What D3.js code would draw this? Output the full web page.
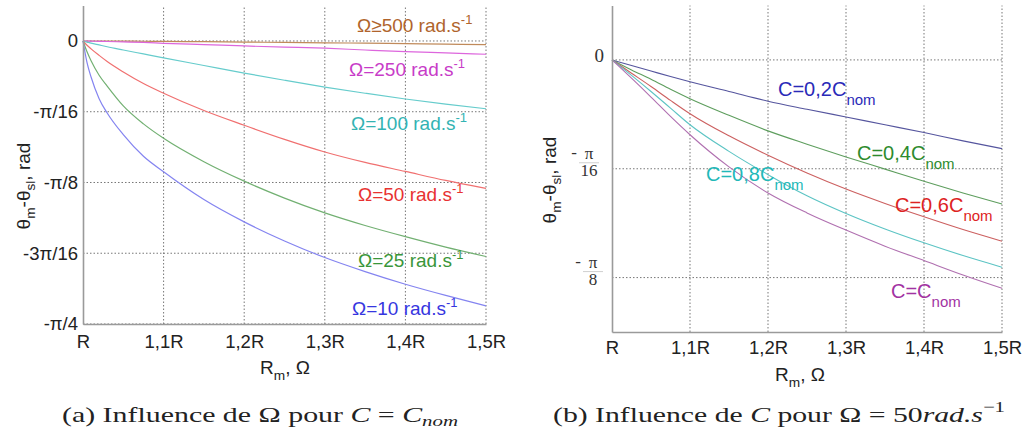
<!DOCTYPE html>
<html><head><meta charset="utf-8">
<script src="https://cdn.jsdelivr.net/npm/d3@7"></script>
<style>body{margin:0;background:#fff}svg{display:block}</style>
</head><body><svg width="1026" height="443"></svg>
<script>
// ---------- data ----------
const PI = Math.PI;
const xTickValues = [1, 1.1, 1.2, 1.3, 1.4, 1.5];
const xTickLabels = ["R", "1,1R", "1,2R", "1,3R", "1,4R", "1,5R"];
const leftYTickValues = [0, -PI/16, -PI/8, -3*PI/16, -PI/4];
const leftYTickLabels = ["0", "-π/16", "-π/8", "-3π/16", "-π/4"];
const rightYTickValues = [0, -PI/16, -PI/8];
const rightYTickNum = ["0", "π", "π"];
const rightYTickDen = ["", "16", "8"];

// (a) influence of Omega, C = Cnom
const leftRm = [1, 1.005, 1.01, 1.02, 1.03, 1.05, 1.075, 1.1, 1.15, 1.2, 1.25, 1.3, 1.35, 1.4, 1.45, 1.5];
const omega500 = [0, 0, 0, 0, 0, -0.0003, -0.0007, -0.001, -0.002, -0.003, -0.004, -0.005, -0.006, -0.0075, -0.009, -0.010];
const omega250 = [0, -0.0003, -0.0006, -0.001, -0.0015, -0.0025, -0.004, -0.0064, -0.010, -0.0138, -0.017, -0.020, -0.025, -0.0295, -0.033, -0.0368];
const omega100 = [0, -0.003, -0.006, -0.011, -0.016, -0.025, -0.036, -0.047, -0.068, -0.089, -0.109, -0.128, -0.145, -0.161, -0.175, -0.188];
const omega50  = [0, -0.012, -0.022, -0.040, -0.057, -0.086, -0.118, -0.145, -0.193, -0.234, -0.273, -0.308, -0.337, -0.362, -0.387, -0.409];
const omega25  = [0, -0.030, -0.055, -0.095, -0.125, -0.180, -0.230, -0.270, -0.335, -0.389, -0.436, -0.477, -0.512, -0.543, -0.572, -0.598];
const omega10  = [0, -0.060, -0.100, -0.160, -0.200, -0.260, -0.320, -0.363, -0.440, -0.502, -0.555, -0.601, -0.640, -0.675, -0.706, -0.735];

// (b) influence of C, Omega = 50 rad/s
const rightRm = [1, 1.025, 1.05, 1.075, 1.1, 1.15, 1.2, 1.25, 1.3, 1.35, 1.4, 1.45, 1.5];
const c02 = [0, -0.010, -0.020, -0.030, -0.0395, -0.057, -0.0745, -0.089, -0.103, -0.117, -0.131, -0.146, -0.160];
const c04 = [0, -0.018, -0.035, -0.053, -0.070, -0.100, -0.128, -0.152, -0.175, -0.197, -0.219, -0.240, -0.260];
const c06 = [0, -0.024, -0.048, -0.073, -0.097, -0.137, -0.172, -0.204, -0.233, -0.259, -0.283, -0.306, -0.327];
const c08 = [0, -0.028, -0.057, -0.087, -0.117, -0.165, -0.207, -0.245, -0.277, -0.305, -0.330, -0.353, -0.374];
const c10 = [0, -0.033, -0.067, -0.102, -0.135, -0.193, -0.240, -0.276, -0.307, -0.336, -0.362, -0.388, -0.412];

const leftSeries = [
  {name: "Ω≥500 rad.s", vals: omega500, line: "#c08a5a", text: "#b0642c", lx: 357, ly: 32},
  {name: "Ω=250 rad.s", vals: omega250, line: "#dd66dd", text: "#c83cc8", lx: 349, ly: 76},
  {name: "Ω=100 rad.s", vals: omega100, line: "#66cccc", text: "#33b3b3", lx: 351, ly: 130},
  {name: "Ω=50 rad.s",  vals: omega50,  line: "#f07070", text: "#e83232", lx: 358, ly: 201},
  {name: "Ω=25 rad.s",  vals: omega25,  line: "#72b072", text: "#3a963a", lx: 358, ly: 267},
  {name: "Ω=10 rad.s",  vals: omega10,  line: "#8484f0", text: "#3636e0", lx: 352, ly: 315}
];
const rightSeries = [
  {name: "C=0,2C", vals: c02, line: "#55559e", text: "#2a2ab8", lx: 778, ly: 96},
  {name: "C=0,4C", vals: c04, line: "#5e9e5e", text: "#2e8b2e", lx: 857, ly: 160},
  {name: "C=0,6C", vals: c06, line: "#cc6060", text: "#dd2222", lx: 895, ly: 212},
  {name: "C=0,8C", vals: c08, line: "#5cc4c4", text: "#22b8b8", lx: 706, ly: 181},
  {name: "C=C",    vals: c10, line: "#b070b0", text: "#a232a2", lx: 891, ly: 298}
];

// ---------- drawing ----------
const svg = d3.select("svg");
const SANS = "'Liberation Sans', Arial, sans-serif";
const SERIF = "'Liberation Serif', 'Times New Roman', serif";

function grid(g, x, y, xt, yt) {
  g.selectAll(".vg").data(xt.slice(1)).join("line")
    .attr("x1", d => x(d)).attr("x2", d => x(d))
    .attr("y1", y.range()[0]).attr("y2", y.range()[1])
    .attr("stroke", "#777").attr("stroke-width", 1).attr("stroke-dasharray", "1.5,2");
  g.selectAll(".hg").data(yt).join("line")
    .attr("x1", x.range()[0]).attr("x2", x.range()[1])
    .attr("y1", d => y(d)).attr("y2", d => y(d))
    .attr("stroke", "#777").attr("stroke-width", 1).attr("stroke-dasharray", "1.5,2");
}

function styleAxis(g) {
  g.select(".domain").attr("stroke", "#9a9a9a").attr("stroke-width", 1.6);
  g.selectAll(".tick line").remove();
}

function yLabel(g, x, y, size) {
  const t = g.append("text").attr("transform", `translate(${x},${y}) rotate(-90)`)
    .attr("text-anchor", "middle").attr("font-family", SANS).attr("font-size", size).attr("fill", "#222");
  t.append("tspan").text("θ");
  t.append("tspan").attr("dy", 5).attr("font-size", size*0.72).text("m");
  t.append("tspan").attr("dy", -5).text("-θ");
  t.append("tspan").attr("dy", 5).attr("font-size", size*0.72).text("sl");
  t.append("tspan").attr("dy", -5).text(", rad");
}
function xLabel(g, x, y, size) {
  const t = g.append("text").attr("x", x).attr("y", y)
    .attr("text-anchor", "middle").attr("font-family", SANS).attr("font-size", size).attr("fill", "#222");
  t.append("tspan").text("R");
  t.append("tspan").attr("dy", 6).attr("font-size", size*0.72).text("m");
  t.append("tspan").attr("dy", -6).text(", Ω");
}

// ----- chart (a) -----
{
  const x = d3.scaleLinear().domain([1, 1.5]).range([83, 486]);
  const y = d3.scaleLinear().domain([-PI/4, PI/32]).range([324, 5.6]);
  const g = svg.append("g");
  grid(g, x, y, xTickValues, leftYTickValues);
  const line = d3.line().x((d, i) => x(leftRm[i])).y(d => y(d)).curve(d3.curveMonotoneX);
  leftSeries.forEach(s => {
    g.append("path").attr("d", line(s.vals)).attr("fill", "none")
      .attr("stroke", s.line).attr("stroke-width", 1.2);
  });
  const xa = g.append("g").attr("transform", "translate(0,324)")
    .call(d3.axisBottom(x).tickValues(xTickValues).tickFormat((d, i) => xTickLabels[i]).tickSize(0).tickPadding(11));
  styleAxis(xa);
  xa.selectAll("text").attr("font-family", SANS).attr("font-size", 18.5).attr("fill", "#222");
  const ya = g.append("g").attr("transform", "translate(83,0)")
    .call(d3.axisLeft(y).tickValues(leftYTickValues).tickFormat((d, i) => leftYTickLabels[i]).tickSize(0).tickPadding(5));
  styleAxis(ya);
  ya.selectAll("text").attr("font-family", SANS).attr("font-size", 18.5).attr("fill", "#222");
  leftSeries.forEach(s => {
    const t = g.append("text").attr("x", s.lx).attr("y", s.ly)
      .attr("font-family", SANS).attr("font-size", 19).attr("fill", s.text);
    t.append("tspan").text(s.name);
    t.append("tspan").attr("dy", -8).attr("font-size", 13).text("-1");
  });
  yLabel(g, 30, 186, 19);
  xLabel(g, 285, 374, 19);
}

// ----- chart (b) -----
{
  const x = d3.scaleLinear().domain([1, 1.5]).range([612, 1002]);
  const y = d3.scaleLinear().domain([-5*PI/32, PI/32]).range([332, 5.5]);
  const g = svg.append("g");
  grid(g, x, y, xTickValues, rightYTickValues);
  const line = d3.line().x((d, i) => x(rightRm[i])).y(d => y(d)).curve(d3.curveMonotoneX);
  rightSeries.forEach(s => {
    g.append("path").attr("d", line(s.vals)).attr("fill", "none")
      .attr("stroke", s.line).attr("stroke-width", 1.1);
  });
  const xa = g.append("g").attr("transform", "translate(0,332)")
    .call(d3.axisBottom(x).tickValues(xTickValues).tickFormat((d, i) => xTickLabels[i]).tickSize(0).tickPadding(9));
  styleAxis(xa);
  xa.selectAll("text").attr("font-family", SANS).attr("font-size", 18.5).attr("fill", "#222");
  const ya = g.append("g").attr("transform", "translate(612,0)")
    .call(d3.axisLeft(y).tickValues(rightYTickValues).tickFormat("").tickSize(0));
  styleAxis(ya);
  // LaTeX-like fraction tick labels
  rightYTickValues.forEach((v, i) => {
    const gy = y(v);
    if (!rightYTickDen[i]) {
      g.append("text").attr("x", 604).attr("y", gy + 2).attr("text-anchor", "end")
        .attr("font-family", SERIF).attr("font-size", 19).attr("fill", "#333").text(rightYTickNum[i]);
      return;
    }
    const cx = rightYTickDen[i].length > 1 ? 589 : 593;
    g.append("text").attr("x", cx - 15).attr("y", gy - 11).attr("text-anchor", "middle")
      .attr("font-family", SERIF).attr("font-size", 17).attr("fill", "#333").text("-");
    g.append("text").attr("x", cx).attr("y", gy - 10).attr("text-anchor", "middle")
      .attr("font-family", SERIF).attr("font-size", 17).attr("fill", "#333").text(rightYTickNum[i]);
    g.append("line").attr("x1", cx - 10).attr("x2", cx + 10).attr("y1", gy - 6).attr("y2", gy - 6)
      .attr("stroke", "#c4c4c4").attr("stroke-width", 0.8);
    g.append("text").attr("x", cx).attr("y", gy + 7).attr("text-anchor", "middle")
      .attr("font-family", SERIF).attr("font-size", 17).attr("fill", "#333").text(rightYTickDen[i]);
  });
  rightSeries.forEach(s => {
    const t = g.append("text").attr("x", s.lx).attr("y", s.ly)
      .attr("font-family", SANS).attr("font-size", 20).attr("fill", s.text);
    t.append("tspan").text(s.name);
    t.append("tspan").attr("dy", 9).attr("font-size", 15).text("nom");
  });
  yLabel(g, 556, 180, 19);
  xLabel(g, 800, 381, 19);
}

// ----- captions -----
{
  const ca = svg.append("text").attr("x", 62).attr("y", 422)
    .attr("font-family", SERIF).attr("font-size", 21.5).attr("fill", "#222")
    .attr("textLength", 396).attr("lengthAdjust", "spacingAndGlyphs");
  ca.append("tspan").text("(a) Influence de Ω pour ");
  ca.append("tspan").attr("font-style", "italic").text("C");
  ca.append("tspan").text(" = ");
  ca.append("tspan").attr("font-style", "italic").text("C");
  ca.append("tspan").attr("font-style", "italic").attr("font-size", 15).attr("dy", 4).text("nom");

  const cb = svg.append("text").attr("x", 553).attr("y", 422)
    .attr("font-family", SERIF).attr("font-size", 21.5).attr("fill", "#222")
    .attr("textLength", 452).attr("lengthAdjust", "spacingAndGlyphs");
  cb.append("tspan").text("(b) Influence de ");
  cb.append("tspan").attr("font-style", "italic").text("C");
  cb.append("tspan").text(" pour Ω = 50");
  cb.append("tspan").attr("font-style", "italic").text("rad.s");
  cb.append("tspan").attr("font-size", 15).attr("dy", -10).text("−1");
}
</script>
</body></html>
